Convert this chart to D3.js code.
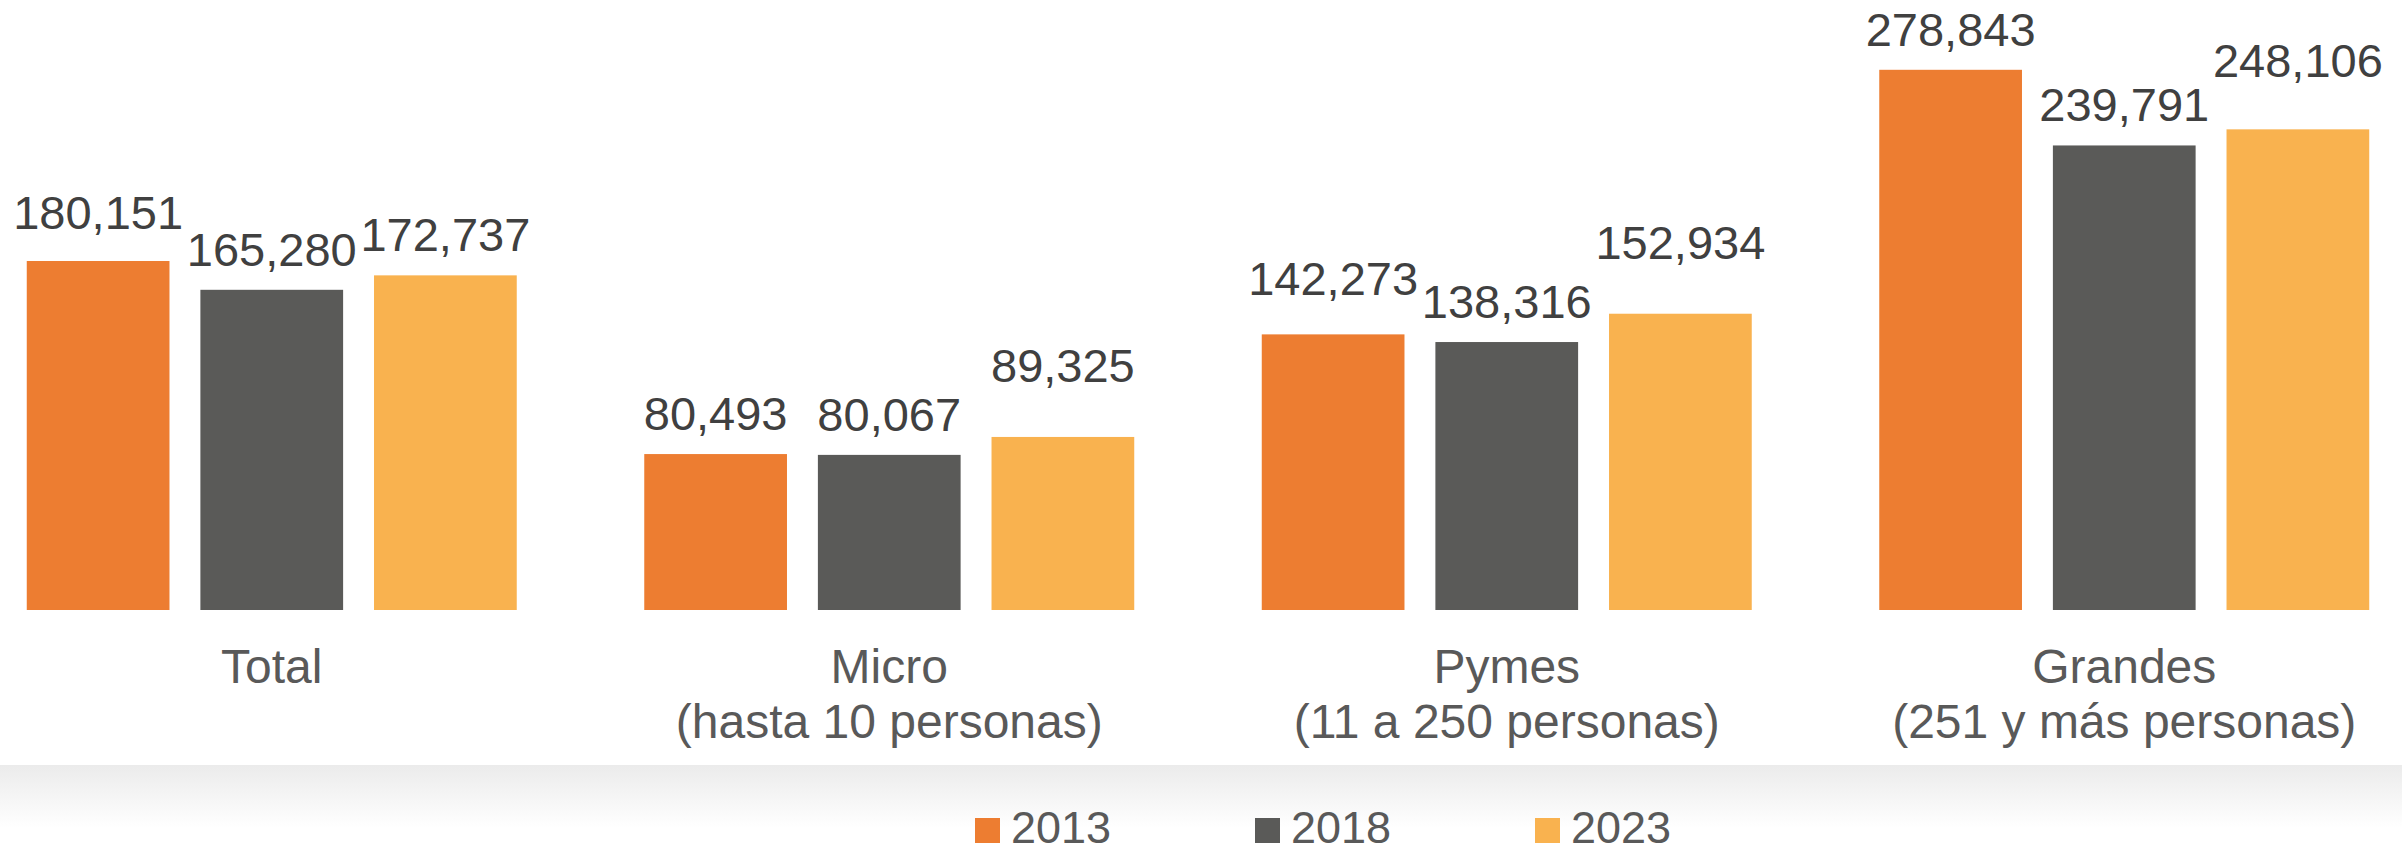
<!DOCTYPE html>
<html>
  <head>
    <meta charset="utf-8" />
    <script src="https://d3js.org/d3.v7.min.js"></script>
    <title>Grouped bars</title>
    <style>
      body { margin: 0; background: #fff; }
      text { font-family: "Liberation Sans", Arial, sans-serif; }
      .value { fill: #404040; font-size: 47px; }
      .cat { fill: #595959; font-size: 48px; }
      .legend text { fill: #595959; font-size: 45px; }
    </style>
  </head>
  <body>
    <svg id="chart" width="2402" height="855"></svg>
    <script>
      var categories = [
        ["Total"],
        ["Micro", "(hasta 10 personas)"],
        ["Pymes", "(11 a 250 personas)"],
        ["Grandes", "(251 y más personas)"]
      ];
      var years = ["2013", "2018", "2023"];
      var values2013 = [180151, 80493, 142273, 278843];
      var values2018 = [165280, 80067, 138316, 239791];
      var values2023 = [172737, 89325, 152934, 248106];
      var colors = ["#ED7D31", "#5A5A58", "#F9B24F"];

      var series = [values2013, values2018, values2023];

      // labels that were moved up by hand in the original, in px, [year][category]
      var labelLift = [[8, 0, 15, 0], [0, 0, 0, 0], [0, 31, 31, 28]];

      var svg = d3.select("#chart");
      var W = 2402, H = 855;

      // grey band behind the legend
      var defs = svg.append("defs");
      var grad = defs.append("linearGradient")
        .attr("id", "band")
        .attr("x1", 0).attr("y1", 0).attr("x2", 0).attr("y2", 1);
      grad.append("stop").attr("offset", "0%").attr("stop-color", "#ebebeb");
      grad.append("stop").attr("offset", "70%").attr("stop-color", "#ffffff");
      svg.append("rect")
        .attr("x", 0).attr("y", 765)
        .attr("width", W).attr("height", H - 765)
        .attr("fill", "url(#band)");

      var catNames = categories.map(function(c) { return c[0]; });

      var x = d3.scaleBand()
        .domain(catNames)
        .range([-37, 2433])
        .paddingInner(0.2065)
        .paddingOuter(0.10325);

      var xs = d3.scaleBand()
        .domain(years)
        .range([0, x.bandwidth()])
        .paddingInner(0.178);

      var y = d3.scaleLinear()
        .domain([0, 300000])
        .range([610, 610 - 0.0019373 * 300000]);

      var groups = svg.selectAll(".group")
        .data(catNames)
        .enter().append("g")
        .attr("class", "group")
        .attr("transform", function(d) { return "translate(" + x(d) + ",0)"; });

      function rows(d, i) {
        return years.map(function(yr, j) {
          return { year: yr, value: series[j][i], k: j, lift: labelLift[j][i] };
        });
      }

      groups.selectAll("rect")
        .data(rows)
        .enter().append("rect")
        .attr("x", function(d) { return xs(d.year); })
        .attr("y", function(d) { return y(d.value); })
        .attr("width", xs.bandwidth())
        .attr("height", function(d) { return y(0) - y(d.value); })
        .attr("fill", function(d) { return colors[d.k]; });

      groups.selectAll(".value")
        .data(rows)
        .enter().append("text")
        .attr("class", "value")
        .attr("text-anchor", "middle")
        .attr("x", function(d) { return xs(d.year) + xs.bandwidth() / 2; })
        .attr("y", function(d) { return y(d.value) - 24 - d.lift; })
        .text(function(d) { return d3.format(",")(d.value); });

      // category labels
      var catLabels = svg.selectAll(".cat")
        .data(categories)
        .enter().append("text")
        .attr("class", "cat")
        .attr("text-anchor", "middle");

      catLabels.each(function(d) {
        var t = d3.select(this);
        var cx = x(d[0]) + x.bandwidth() / 2;
        d.forEach(function(line, i) {
          t.append("tspan")
            .attr("x", cx)
            .attr("y", 683 + i * 55)
            .text(line);
        });
      });

      // legend
      var legend = svg.append("g").attr("class", "legend");
      var items = legend.selectAll("g")
        .data(years)
        .enter().append("g")
        .attr("transform", function(d, i) { return "translate(" + (975 + i * 280) + ",0)"; });

      items.append("rect")
        .attr("x", 0).attr("y", 818)
        .attr("width", 25).attr("height", 25)
        .attr("fill", function(d, i) { return colors[i]; });

      items.append("text")
        .attr("x", 36).attr("y", 843)
        .text(function(d) { return d; });
    </script>
  </body>
</html>
